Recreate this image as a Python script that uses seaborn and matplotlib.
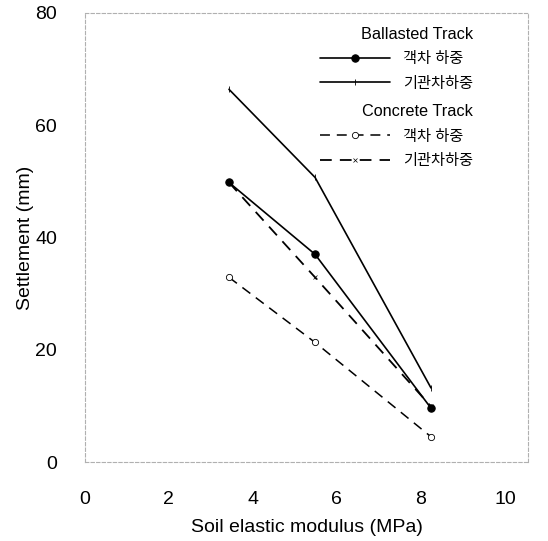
import seaborn as sns
import matplotlib.pyplot as plt

sns.set_theme(style="white")
plt.rcParams['font.family'] = ['Liberation Sans', 'Noto Sans CJK KR']
plt.rcParams['text.color'] = 'black'
plt.rcParams['axes.labelcolor'] = 'black'
plt.rcParams['xtick.color'] = 'black'
plt.rcParams['ytick.color'] = 'black'

# soil elastic modulus (MPa)
modulus = [3.43, 5.48, 8.24]
# settlement (mm)
ballast_passenger = [49.8, 37.0, 9.6]
ballast_loco = [66.4, 50.7, 13.2]
concrete_passenger = [32.9, 21.3, 4.5]
concrete_loco = [49.8, 32.9, 9.9]

label_passenger = "객차 하중"
label_loco = "기관차하중"

fig = plt.figure(figsize=(5.48, 5.41), dpi=100)
ax = fig.add_axes([0.155, 0.146, 0.8085, 0.83])

dash = (0, (6.5, 4.5))
h1 = sns.lineplot(x=modulus, y=ballast_passenger, ax=ax, color="black", lw=1.2,
                  marker="o", markersize=5.3, mec="black", label=label_passenger).lines[-1]
h2 = sns.lineplot(x=modulus, y=ballast_loco, ax=ax, color="black", lw=1.2,
                  marker="|", markersize=4, mew=0.6, mec="black",
                  label=label_loco).lines[-1]
h3 = sns.lineplot(x=modulus, y=concrete_passenger, ax=ax, color="black", lw=1.1,
                  linestyle=dash, marker="o", markersize=4.5, mfc="white",
                  mec="black", mew=0.6, label=label_passenger).lines[-1]
h4 = sns.lineplot(x=modulus, y=concrete_loco, ax=ax, color="black", lw=1.3,
                  linestyle=dash, marker="x", markersize=3, mew=0.5, mec="black",
                  label=label_loco).lines[-1]

ax.set_xlim(0, 10.55)
ax.set_ylim(0, 80)
ax.set_xticks([0, 2, 4, 6, 8, 10])
ax.set_yticks([0, 20, 40, 60, 80])
ax.tick_params(labelsize=14, length=3, direction="in", color="#bbbbbb")
ax.tick_params(axis="x", pad=21)
ax.tick_params(axis="y", pad=20)
for s in ax.spines.values():
    s.set_color("#b0b0b0")
    s.set_linestyle((0, (3, 2)))
    s.set_linewidth(0.8)

ax.set_xlabel("Soil elastic modulus (MPa)", fontsize=14, labelpad=8)
ax.set_ylabel("Settlement (mm)", fontsize=14, labelpad=1)

leg_kw = dict(frameon=False, fontsize=11, title_fontsize=11.7, loc="upper left",
              handlelength=4.6, handletextpad=0.8, labelspacing=0.68,
              alignment="right")
leg1 = ax.legend(handles=[h1, h2], labels=[label_passenger, label_loco],
                 title="Ballasted Track", bbox_to_anchor=(0.5, 1.0), **leg_kw)
ax.add_artist(leg1)
ax.legend(handles=[h3, h4], labels=[label_passenger, label_loco],
          title="Concrete Track", bbox_to_anchor=(0.5, 0.827), **leg_kw)

plt.savefig("out.png", dpi=100)
